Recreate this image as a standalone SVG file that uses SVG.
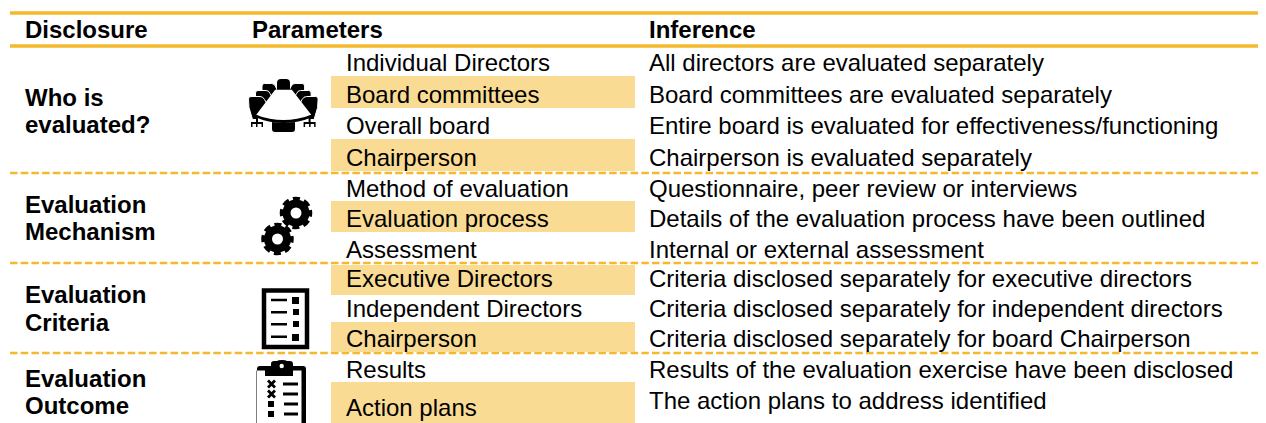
<svg xmlns="http://www.w3.org/2000/svg" width="1266" height="423" viewBox="0 0 1266 423">
<defs>
<style>
text{font-family:"Liberation Sans",Arial,sans-serif;font-size:24px;fill:#000}
.b{font-weight:700}
.r{fill:#fadb94}
.s{stroke:#f4b92d;stroke-width:3.6;fill:none}
.d{stroke:#f4b92d;stroke-width:2.4;stroke-dasharray:7.500 3.200;fill:none}
.ln{stroke:#000;fill:none}
.c{stroke:#fff;stroke-width:1}
</style>
<g id="board-side">
<path class="c" d="M262 86q0-2.500 2.500-2.500h7q3 0 4 3l2 4-6 8-5-6h-4.500z"/>
<path class="c" d="M255.500 93q0-2.500 2.500-2.500h8q3 0 4 3l3 5-8 10-3-8.500h-6.500z"/>
<path class="c" d="M248.500 99q0-2.500 2.500-2.500h9q3 0 4.500 3l4 7-11 13h-5l-3.500-12z"/>
<path d="M256 118h2v4h5v5h-1.500v-3h-4v3h-1.500v-3h-3.500v3h-1.500v-5h5z"/>
</g>
</defs>
<rect width="1266" height="423" fill="#fff"/>
<g id="connectors">
<path class="s" d="M10 13H1258M10 46H1258"/>
<path class="d" d="M10 173H1258M10 263H1258M10 353H1258"/>
</g>
<g id="header">
<text class="b" x="25" y="38">Disclosure</text>
<text class="b" x="252" y="38">Parameters</text>
<text class="b" x="649" y="38">Inference</text>
</g>
<g id="who-is-evaluated">
<rect class="r" x="331" y="76" width="304" height="32"/>
<rect class="r" x="331" y="139" width="304" height="32"/>
<text class="b" x="25" y="105.500">Who is</text>
<text class="b" x="25" y="132.500">evaluated?</text>
<text x="346" y="71">Individual Directors</text>
<text x="346" y="103">Board committees</text>
<text x="346" y="134">Overall board</text>
<text x="346" y="166">Chairperson</text>
<text x="649" y="71">All directors are evaluated separately</text>
<text x="649" y="103">Board committees are evaluated separately</text>
<text x="649" y="134">Entire board is evaluated for effectiveness/functioning</text>
<text x="649" y="166">Chairperson is evaluated separately</text>
<g id="icon-board">
<use href="#board-side"/>
<use href="#board-side" transform="translate(566.600 0) scale(-1 1)"/>
<path d="M277 90v-7q0-4 4-4h5q4 0 4 4v7z"/>
<path d="M275.500 90.500h16l18.500 24q-13 4.500-26.500 4.500t-26-4.500z" fill="#fff" stroke="#fff" stroke-width="1.500"/>
<path d="M256 115q14 5 27.500 5t27.500-5l1.500 2q-14 6-29 6t-28.500-6z"/>
<path d="M272 122q11 2 23 0v7q0 3-3 3h-17q-3 0-3-3z"/>
</g>
</g>
<g id="evaluation-mechanism">
<rect class="r" x="331" y="201" width="304" height="31"/>
<text class="b" x="25" y="212.500">Evaluation</text>
<text class="b" x="25" y="239.500">Mechanism</text>
<text x="346" y="196.500">Method of evaluation</text>
<text x="346" y="226.500">Evaluation process</text>
<text x="346" y="257.500">Assessment</text>
<text x="649" y="196.500">Questionnaire, peer review or interviews</text>
<text x="649" y="226.500">Details of the evaluation process have been outlined</text>
<text x="649" y="257.500">Internal or external assessment</text>
<g id="icon-gears" class="ln">
<circle cx="296" cy="213" r="9.500" stroke-width="8"/>
<circle cx="296" cy="213" r="13.500" stroke-width="5.500" stroke-dasharray="6.600 4" stroke-dashoffset="3.300"/>
<circle cx="277.500" cy="239" r="9.500" stroke-width="8"/>
<circle cx="277.500" cy="239" r="13.500" stroke-width="5.500" stroke-dasharray="6.600 4" stroke-dashoffset="3.300"/>
</g>
</g>
<g id="evaluation-criteria">
<rect class="r" x="331" y="265" width="304" height="30"/>
<rect class="r" x="331" y="322" width="304" height="30"/>
<text class="b" x="25" y="302.500">Evaluation</text>
<text class="b" x="25" y="330.500">Criteria</text>
<text x="346" y="287">Executive Directors</text>
<text x="346" y="317">Independent Directors</text>
<text x="346" y="347">Chairperson</text>
<text x="649" y="287">Criteria disclosed separately for executive directors</text>
<text x="649" y="317">Criteria disclosed separately for independent directors</text>
<text x="649" y="347">Criteria disclosed separately for board Chairperson</text>
<g id="icon-criteria">
<rect class="ln" x="264" y="290.500" width="43" height="56.500" stroke-width="4.500"/>
<path class="ln" d="M271 300H287M271 312.300H287M271 324.300H287M271 336.700H287" stroke-width="2.500"/>
<path d="M292 297h7v7h-7zM293 309h6v6h-6zM293 321h6v6h-6zM292 334h7v7h-7z"/>
</g>
</g>
<g id="evaluation-outcome">
<rect class="r" x="331" y="382" width="304" height="41"/>
<text class="b" x="25" y="386.500">Evaluation</text>
<text class="b" x="25" y="413.500">Outcome</text>
<text x="346" y="378">Results</text>
<text x="346" y="416">Action plans</text>
<text x="649" y="378">Results of the evaluation exercise have been disclosed</text>
<text x="649" y="409">The action plans to address identified</text>
<g id="icon-outcome">
<path d="M257 423V369q0-3 3-3h11v-2q0-3 3-3h3q1-1 5-1t5 1h3q3 0 3 3v2h10q3 0 3 3v54h-4.500V370.500h-8.500v5.500h-28v-5.500h-8.500v52.500z"/>
<circle cx="281.700" cy="366" r="2.200" fill="#fff"/>
<path class="ln" d="M268 380.500l7 7m0-7l-7 7M268 390.500l7 7m0-7l-7 7" stroke-width="2.800"/>
<path class="ln" d="M283 384H298M283 394H298M284 404H298M284 414H298" stroke-width="2.800"/>
<path d="M268 401h6v6h-6zM268 411h6v6h-6z"/>
</g>
</g>
</svg>
